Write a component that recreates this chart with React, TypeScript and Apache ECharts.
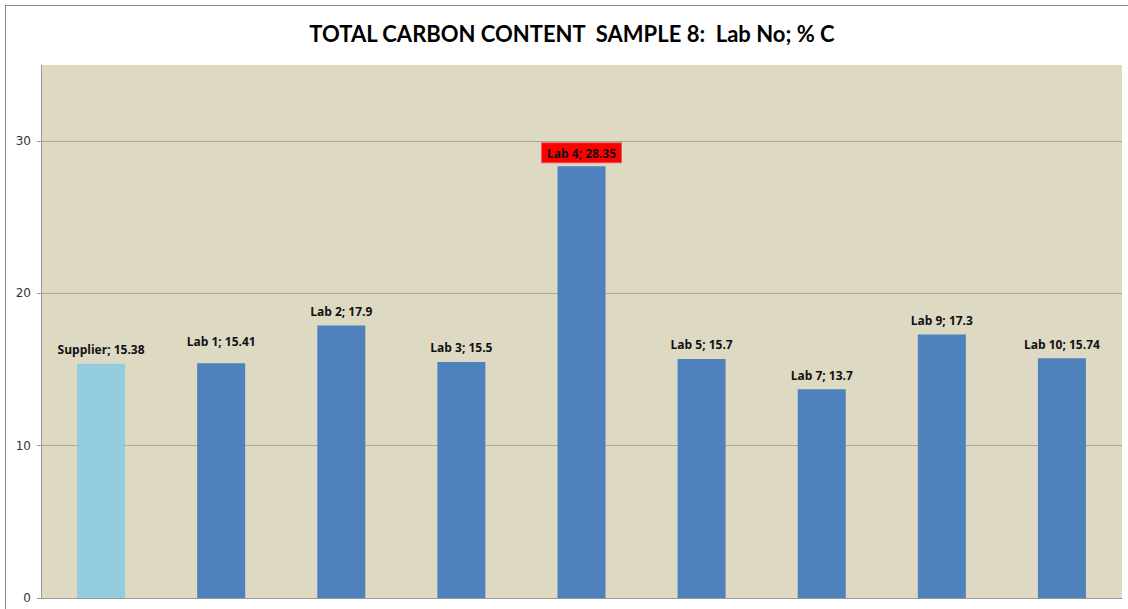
import React, { useEffect, useRef } from "react";
import * as echarts from "echarts";

const categories = ["Supplier", "Lab 1", "Lab 2", "Lab 3", "Lab 4", "Lab 5", "Lab 7", "Lab 9", "Lab 10"];
const values = [15.38, 15.41, 17.9, 15.5, 28.35, 15.7, 13.7, 17.3, 15.74];
const barColors = ["#93CDDD", "#4F81BD", "#4F81BD", "#4F81BD", "#4F81BD", "#4F81BD", "#4F81BD", "#4F81BD", "#4F81BD"];
const highlighted = ["Lab 4"];
const raisedLabels = ["Lab 1"];
const titleText = "TOTAL CARBON CONTENT  SAMPLE 8:  Lab No; % C";

export default function App() {
  const ref = useRef<HTMLDivElement>(null);
  useEffect(() => {
    if (!ref.current) return;
    const chart = echarts.init(ref.current, null, { renderer: "svg" });
    const data = values.map((v, i) => {
      const hl = highlighted.includes(categories[i]);
      const raised = raisedLabels.includes(categories[i]);
      return {
        value: v,
        itemStyle: { color: barColors[i] },
        label: hl
          ? { backgroundColor: "#FF0000", borderColor: "#E06060", borderWidth: 1, padding: [4, 5, 3, 5], distance: 4 }
          : raised
          ? { distance: 16 }
          : {},
      };
    });
    chart.setOption({
      animation: false,
      backgroundColor: "#ffffff",
      title: {
        text: titleText,
        left: 567,
        textAlign: "center",
        top: 17,
        textStyle: { fontFamily: "Lato", fontWeight: "bold", fontSize: 22, color: "#000" },
      },
      graphic: [
        { type: "line", shape: { x1: 5, y1: 5.5, x2: 1128, y2: 5.5 }, style: { stroke: "#8a8a8a", lineWidth: 1 } },
        { type: "line", shape: { x1: 5.5, y1: 5, x2: 5.5, y2: 609 }, style: { stroke: "#8a8a8a", lineWidth: 1 } },
      ],
      grid: {
        left: 41,
        top: 65,
        width: 1081,
        height: 533,
        show: true,
        backgroundColor: "#DDD9C3",
        borderWidth: 0,
      },
      xAxis: {
        type: "category",
        data: categories,
        axisLine: { lineStyle: { color: "#9a9a9a" } },
        axisTick: { show: false },
        axisLabel: { show: false },
      },
      yAxis: {
        type: "value",
        min: 0,
        max: 35,
        interval: 10,
        axisLine: { show: true, lineStyle: { color: "#9a9a9a" } },
        axisTick: { show: true, length: 4, lineStyle: { color: "#9a9a9a" } },
        axisLabel: {
          showMaxLabel: false,
          margin: 10,
          fontFamily: "DejaVu Sans",
          fontSize: 12,
          color: "#333",
        },
        splitLine: {
          lineStyle: { color: ["#ABA899", "#ABA899", "#ABA899", "#ABA899", "#DDD9C3"], width: 1 },
        },
      },
      series: [
        {
          type: "bar",
          data,
          barWidth: 48,
          label: {
            show: true,
            position: "top",
            distance: 8,
            formatter: (p: any) => `${p.name}; ${p.value}`,
            fontFamily: "Open Sans",
            fontWeight: "bold",
            fontSize: 12,
            color: "#111",
          },
        },
      ],
    });
    return () => chart.dispose();
  }, []);
  return <div ref={ref} style={{ width: 1128, height: 609, position: "absolute", left: 0, top: 0 }} />;
}
